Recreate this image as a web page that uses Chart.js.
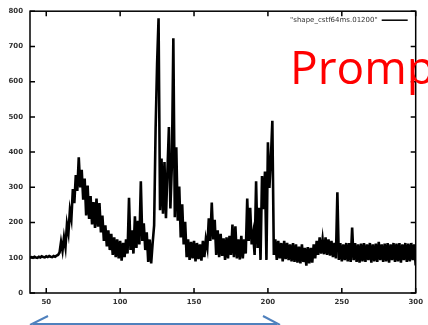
<!DOCTYPE html>
<html>
<head>
<meta charset="utf-8">
<script src="https://cdn.jsdelivr.net/npm/chart.js@4.4.1/dist/chart.umd.min.js"></script>
<style>
    html, body { margin: 0; padding: 0; background: #fff; }
    #wrap { position: relative; width: 428px; height: 325px; overflow: hidden; }
    #plot { position: absolute; left: 0; top: 0; }
    #prompt {
        position: absolute; left: 290px; top: 43px;
        font-family: "Open Sans", sans-serif; font-size: 46px; line-height: 46px;
        color: #ff0000; white-space: nowrap;
    }
    #bracket { position: absolute; left: 0; top: 0; }
</style>
</head>
<body>
<div id="wrap">
    <canvas id="plot" width="428" height="325"></canvas>
    <div id="prompt">Promp</div>
    <svg id="bracket" width="428" height="325">
        <g stroke="#4f81bd" stroke-width="2" fill="none">
            <line x1="30" y1="325" x2="48" y2="316" />
            <line x1="33" y1="324" x2="277" y2="324" />
            <line x1="263" y1="316" x2="280" y2="325" />
        </g>
    </svg>
</div>
<script>
// sample grid (x = xStart + i * xStep)
const xStart = 39;
const xStep = 1;

// signal, one value per x unit
const counts = [
    100, 102, 100, 103, 101, 100, 103, 101, 104, 102,   // 39-48
    101, 104, 102, 105, 103, 102, 105, 103, 106, 108,   // 49-58
    115, 145, 120, 158, 130, 195, 170, 235, 210, 295,   // 59-68
    255, 335, 290, 385, 300, 350, 265, 325, 220, 305,   // 69-78
    210, 275, 195, 258, 185, 268, 188, 255, 172, 220,   // 79-88
    148, 192, 132, 178, 122, 168, 108, 158, 102, 152,   // 89-98
    98, 148, 92, 142, 102, 152, 112, 270, 122, 178,     // 99-108
    112, 218, 128, 205, 138, 317, 148, 198, 122, 172,   // 109-118
    88, 152, 84, 142, 192, 466, 650, 780, 235, 382,     // 119-128
    225, 372, 212, 345, 471, 240, 362, 723, 215, 414,   // 129-138
    205, 302, 158, 252, 138, 202, 102, 152, 94, 145,    // 139-148
    98, 148, 90, 142, 96, 138, 92, 148, 102, 152,       // 149-158
    128, 212, 148, 257, 152, 208, 108, 178, 102, 168,   // 159-168
    105, 155, 94, 158, 98, 162, 108, 194, 102, 189,     // 169-178
    98, 152, 95, 162, 98, 152, 112, 268, 148, 242,      // 179-188
    138, 168, 108, 317, 128, 242, 94, 332, 238, 345,    // 189-198
    94, 428, 298, 382, 489, 108, 152, 94, 148, 98,      // 199-208
    142, 90, 148, 96, 142, 93, 138, 90, 142, 88,        // 209-218
    138, 86, 132, 84, 138, 88, 128, 78, 130, 84,        // 219-228
    128, 86, 138, 98, 148, 108, 158, 112, 152, 110,     // 229-238
    158, 108, 152, 106, 148, 102, 142, 98, 286, 94,     // 239-248
    142, 90, 138, 93, 142, 90, 142, 88, 186, 93,        // 249-258
    142, 88, 138, 86, 140, 90, 142, 88, 138, 93,        // 259-268
    142, 86, 138, 90, 140, 88, 145, 93, 138, 88,        // 269-278
    140, 90, 142, 86, 138, 93, 142, 88, 140, 90,        // 279-288
    142, 86, 138, 93, 142, 88, 140, 90, 142, 93, 138, 78 // 289-300
];

const xTicks = [50, 100, 150, 200, 250, 300];
const yTicks = [0, 100, 200, 300, 400, 500, 600, 700, 800];
const seriesLabel = '"shape_cstf64ms.01200"';

const points = counts.map((v, i) => ({ x: xStart + i * xStep, y: v }));

// gnuplot-like frame: box border, inward ticks on all sides, key in top right
const framePlugin = {
    id: 'frame',
    afterDraw(chart) {
        const { ctx, chartArea: a, scales } = chart;
        const len = 5;
        ctx.save();
        ctx.strokeStyle = '#000';
        ctx.lineWidth = 1.5;
        ctx.strokeRect(a.left, a.top, a.right - a.left, a.bottom - a.top);
        ctx.beginPath();
        xTicks.forEach(v => {
            const px = scales.x.getPixelForValue(v);
            ctx.moveTo(px, a.bottom); ctx.lineTo(px, a.bottom - len);
            ctx.moveTo(px, a.top); ctx.lineTo(px, a.top + len);
        });
        yTicks.forEach(v => {
            const py = scales.y.getPixelForValue(v);
            ctx.moveTo(a.left, py); ctx.lineTo(a.left + len, py);
            ctx.moveTo(a.right, py); ctx.lineTo(a.right - len, py);
        });
        ctx.stroke();

        // key
        const ky = a.top + 9;
        ctx.fillStyle = '#333';
        ctx.font = '7px "DejaVu Sans"';
        ctx.textAlign = 'right';
        ctx.textBaseline = 'middle';
        ctx.fillText(seriesLabel, a.right - 38, ky);
        ctx.beginPath();
        ctx.lineWidth = 1.5;
        ctx.moveTo(a.right - 34, ky);
        ctx.lineTo(a.right - 8, ky);
        ctx.stroke();
        ctx.restore();
    }
};

new Chart(document.getElementById('plot'), {
    type: 'line',
    data: {
        datasets: [{
            label: seriesLabel,
            data: points,
            borderColor: '#000',
            borderWidth: 2.6,
            pointRadius: 0,
            tension: 0,
            fill: false
        }]
    },
    options: {
        responsive: false,
        animation: false,
        devicePixelRatio: 1,
        layout: { padding: { left: 0, right: 10, top: 11, bottom: 0 } },
        plugins: {
            legend: { display: false },
            tooltip: { enabled: false }
        },
        scales: {
            x: {
                type: 'linear',
                min: 39,
                max: 300,
                afterBuildTicks: s => { s.ticks = xTicks.map(v => ({ value: v })); },
                afterFit: s => { s.height = 32; },
                grid: { display: false, drawTicks: false },
                border: { display: false },
                ticks: {
                    padding: 5,
                    maxRotation: 0,
                    autoSkip: false,
                    color: '#333',
                    font: { family: 'DejaVu Sans', size: 7, weight: 'bold' }
                }
            },
            y: {
                min: 0,
                max: 800,
                afterBuildTicks: s => { s.ticks = yTicks.map(v => ({ value: v })); },
                afterFit: s => { s.width = 30; },
                grid: { display: false, drawTicks: false },
                border: { display: false },
                ticks: {
                    padding: 7,
                    color: '#333',
                    font: { family: 'DejaVu Sans', size: 7, weight: 'bold' }
                }
            }
        }
    },
    plugins: [framePlugin]
});
</script>
</body>
</html>
